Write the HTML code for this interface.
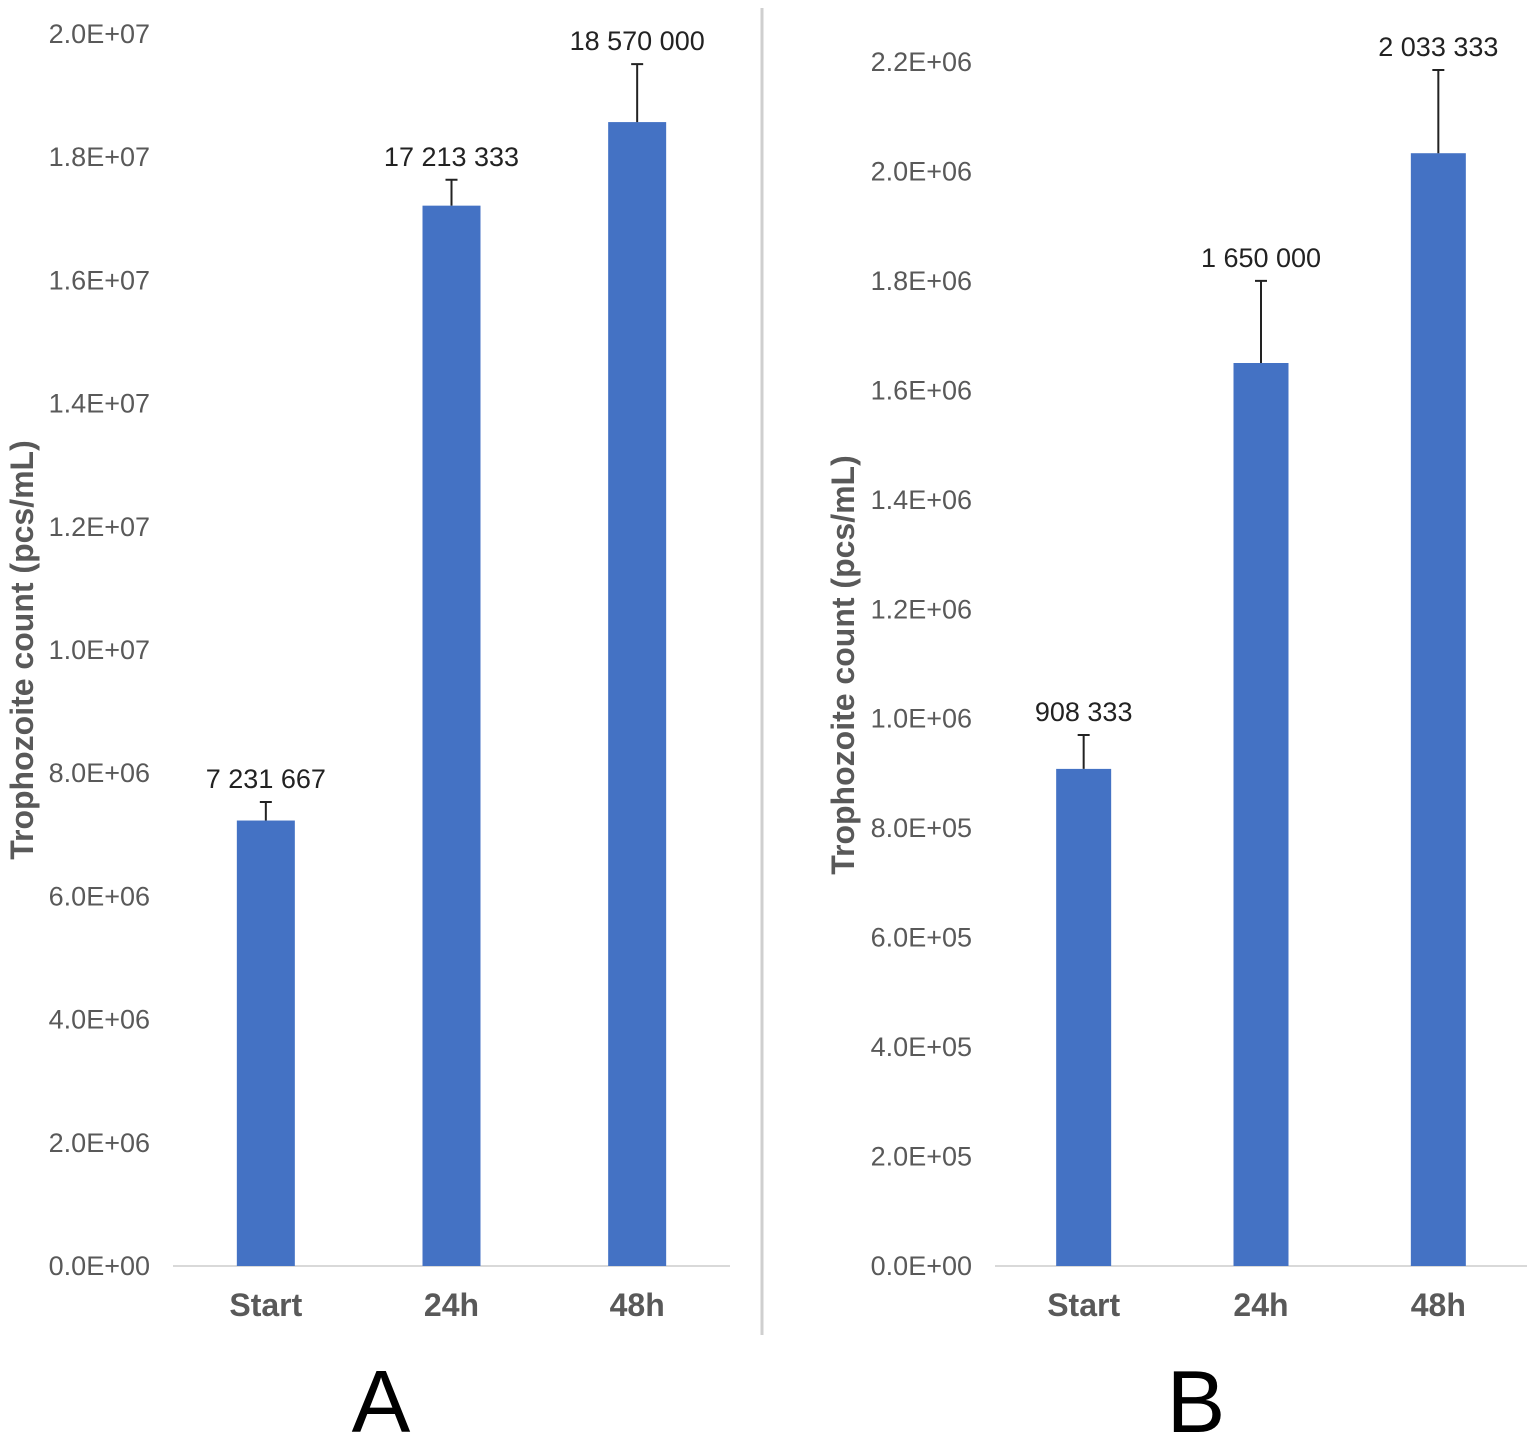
<!DOCTYPE html>
<html><head><meta charset="utf-8"><style>
html,body{margin:0;padding:0;background:#fff;}
svg{display:block;}
text{font-family:"Liberation Sans",Arial,sans-serif;}
</style></head><body>
<svg id="svg" width="1534" height="1443" viewBox="0 0 1534 1443">
<line x1="762" y1="8" x2="762" y2="1335" stroke="#cfcfcf" stroke-width="3"/>
<g id="chartA"></g>
<g id="chartB"></g>
<text x="381" y="1432" font-size="88" text-anchor="middle" fill="#000">A</text>
<text x="1196" y="1432" font-size="88" text-anchor="middle" fill="#000">B</text>
</svg>
<script>
const categories = ["Start","24h","48h"];
const valuesA = [7231667, 17213333, 18570000];
const errorsA = [300000, 420000, 940000];
const labelsA = ["7 231 667","17 213 333","18 570 000"];
const ticksA = ["0.0E+00","2.0E+06","4.0E+06","6.0E+06","8.0E+06","1.0E+07","1.2E+07","1.4E+07","1.6E+07","1.8E+07","2.0E+07"];
const tickStepA = 2000000;
const valuesB = [908333, 1650000, 2033333];
const errorsB = [62000, 150000, 152000];
const labelsB = ["908 333","1 650 000","2 033 333"];
const ticksB = ["0.0E+00","2.0E+05","4.0E+05","6.0E+05","8.0E+05","1.0E+06","1.2E+06","1.4E+06","1.6E+06","1.8E+06","2.0E+06","2.2E+06"];
const tickStepB = 200000;

const NS="http://www.w3.org/2000/svg";
function mk(parent,tag,attrs,txt){const e=document.createElementNS(NS,tag);for(const k in attrs)e.setAttribute(k,attrs[k]);if(txt!==undefined)e.textContent=txt;parent.appendChild(e);return e;}

function draw(g,cfg){
  const y0=1266, maxV=(cfg.ticks.length-1)*cfg.step;
  const y=v=>y0-(v/maxV)*(y0-cfg.yTop);
  const x=i=>cfg.x0+(i+0.5)*(cfg.x1-cfg.x0)/categories.length;
  cfg.ticks.forEach((t,i)=>{
    const e=mk(g,"text",{x:cfg.tickX,y:y(i*cfg.step)+9,"font-size":27,"text-anchor":"end",fill:"#595959"},t);
    
    
  });
  const ax=mk(g,"line",{x1:cfg.x0,x2:cfg.x1,y1:y0,y2:y0,stroke:"#d9d9d9","stroke-width":2});
  
  
  categories.forEach((c,i)=>{
    const cx=x(i), v=cfg.values[i], e=cfg.errors[i];
    const b=mk(g,"rect",{x:cx-cfg.bw/2,y:y(v),width:cfg.bw,height:y0-y(v),fill:"#4472C4"});
    
    
    const el=mk(g,"path",{d:`M${cx},${y(v)}V${y(v+e)}M${cx-6},${y(v+e)}H${cx+6}`,stroke:"#222","stroke-width":2,fill:"none"});
    
    
    const lb=mk(g,"text",{x:cx,y:y(v+e)-14,"font-size":27,"text-anchor":"middle",fill:"#222"},cfg.labels[i]);
    
    
    const cl=mk(g,"text",{x:cx,y:1316,"font-size":32,"font-weight":"bold","text-anchor":"middle",fill:"#595959"},c);
    
    
  });
  const t=mk(g,"text",{x:0,y:0,"font-size":32,"font-weight":"bold","text-anchor":"middle",fill:"#595959",transform:`translate(${cfg.titleX},${cfg.titleY}) rotate(-90)`},"Trophozoite count (pcs/mL)");
  
  
}
draw(document.getElementById("chartA"),{values:valuesA,errors:errorsA,labels:labelsA,ticks:ticksA,step:tickStepA,yTop:34,x0:173,x1:730,bw:58,tickX:150,titleX:33,titleY:650});
draw(document.getElementById("chartB"),{values:valuesB,errors:errorsB,labels:labelsB,ticks:ticksB,step:tickStepB,yTop:62,x0:995,x1:1527,bw:55,tickX:972,titleX:854,titleY:665});
</script>
</body></html>
